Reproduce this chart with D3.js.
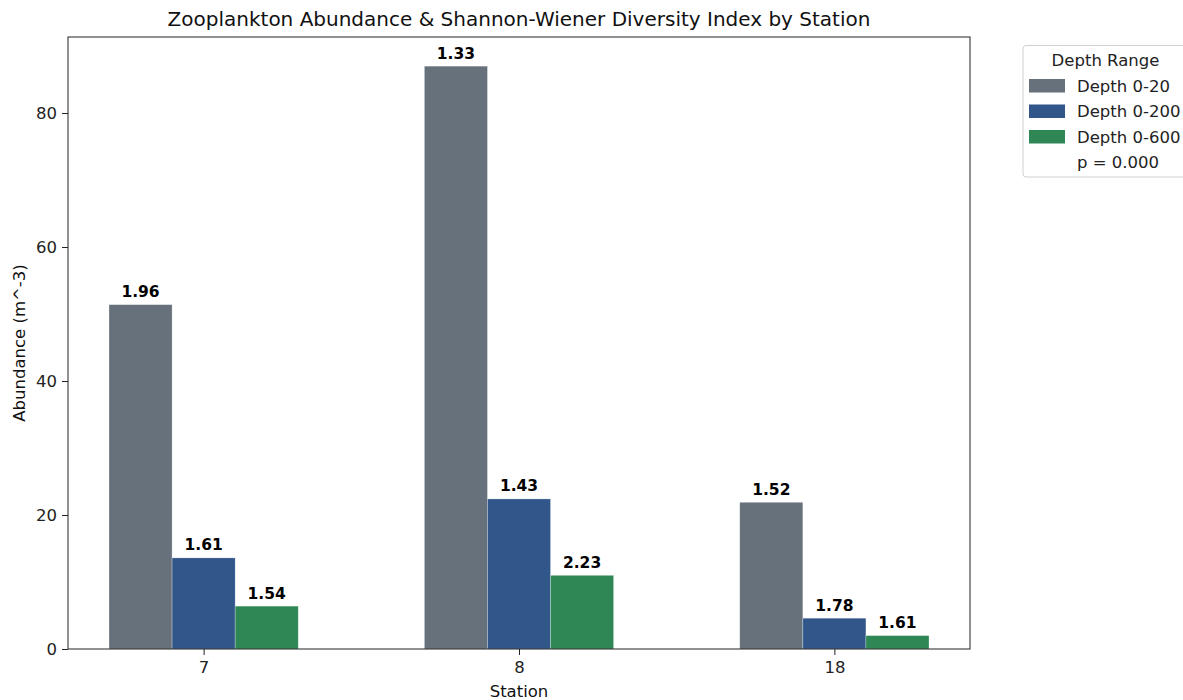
<!DOCTYPE html>
<html>
<head>
<meta charset="utf-8">
<script src="https://cdn.jsdelivr.net/npm/d3@7"></script>
<style>
  body { margin: 0; background: #fff; }
  svg { display: block; font-family: "DejaVu Sans", sans-serif; }
</style>
</head>
<body>
<svg id="chart" width="1183" height="700"></svg>
<script>
// 站位 × 深度层 分组柱状图，柱顶标注 Shannon-Wiener 指数

const stations = ["7", "8", "18"];
const depths = ["Depth 0-20", "Depth 0-200", "Depth 0-600"];
const depthColors = ["#67717c", "#30568a", "#2e8754"];

// abundance (m^-3), one array per depth range, ordered like stations
const abundance0to20 = [51.4, 87.0, 21.9];
const abundance0to200 = [13.6, 22.4, 4.6];
const abundance0to600 = [6.4, 11.0, 2.0];

// Shannon-Wiener index labels
const shannon0to20 = [1.96, 1.33, 1.52];
const shannon0to200 = [1.61, 1.43, 1.78];
const shannon0to600 = [1.54, 2.23, 1.61];

const yTicks = [0, 20, 40, 60, 80];
const pValueText = "p = 0.000";

const abundanceSeries = [abundance0to20, abundance0to200, abundance0to600];
const shannonSeries = [shannon0to20, shannon0to200, shannon0to600];

const rows = [];
stations.forEach((station, i) => {
  depths.forEach((depth, j) => {
    rows.push({
      station,
      depth,
      value: abundanceSeries[j][i],
      shannon: shannonSeries[j][i],
    });
  });
});

const FONT = 16.5;
const margin = { top: 37, right: 213, bottom: 51, left: 68 };
const svg = d3.select("#chart");
const width = +svg.attr("width") - margin.left - margin.right;
const height = +svg.attr("height") - margin.top - margin.bottom;

const g = svg.append("g").attr("transform", `translate(${margin.left},${margin.top})`);

const x = d3.scalePoint().domain(stations).range([0, width]).padding(0.43);
const step = x.step();
const xInner = d3
  .scaleBand()
  .domain(depths)
  .range([-0.3 * step, 0.3 * step])
  .padding(0);

const yMax = d3.max(rows, (d) => d.value) * 1.05;
const y = d3.scaleLinear().domain([0, yMax]).range([height, 0]);

const color = d3.scaleOrdinal().domain(depths).range(depthColors);

// bars
g.selectAll(".bar")
  .data(rows)
  .join("rect")
  .attr("class", "bar")
  .attr("x", (d) => x(d.station) + xInner(d.depth))
  .attr("y", (d) => y(d.value))
  .attr("width", xInner.bandwidth())
  .attr("height", (d) => y(0) - y(d.value))
  .attr("fill", (d) => color(d.depth))
  .attr("stroke", "rgba(255,255,255,0.45)")
  .attr("stroke-width", 0.6);

// shannon labels
g.selectAll(".bar-label")
  .data(rows)
  .join("text")
  .attr("class", "bar-label")
  .attr("x", (d) => x(d.station) + xInner(d.depth) + xInner.bandwidth() / 2)
  .attr("y", (d) => y(d.value) - 7.5)
  .attr("text-anchor", "middle")
  .attr("font-size", 15.5)
  .attr("font-weight", "bold")
  .attr("fill", "#000")
  .text((d) => d.shannon.toFixed(2));

// axes
const styleAxis = (s) => {
  s.select(".domain").remove();
  s.selectAll(".tick line").attr("stroke", "#222");
  s.selectAll(".tick text")
    .attr("font-size", FONT)
    .attr("font-family", "DejaVu Sans")
    .attr("fill", "#222");
};

g.append("g")
  .attr("class", "axis x-axis")
  .attr("transform", `translate(0,${height})`)
  .call(d3.axisBottom(x).tickSize(6).tickPadding(6))
  .call(styleAxis);

g.append("g")
  .attr("class", "axis y-axis")
  .call(d3.axisLeft(y).tickValues(yTicks).tickSize(6).tickPadding(5))
  .call(styleAxis);

// frame
g.append("rect")
  .attr("width", width)
  .attr("height", height)
  .attr("fill", "none")
  .attr("stroke", "#222")
  .attr("stroke-width", 1);

// title and axis labels
svg.append("text")
  .attr("x", margin.left + width / 2)
  .attr("y", 26)
  .attr("text-anchor", "middle")
  .attr("font-size", 20)
  .attr("fill", "#111")
  .text("Zooplankton Abundance & Shannon-Wiener Diversity Index by Station");

svg.append("text")
  .attr("x", margin.left + width / 2)
  .attr("y", 697)
  .attr("text-anchor", "middle")
  .attr("font-size", FONT)
  .attr("fill", "#111")
  .text("Station");

svg.append("text")
  .attr("transform", `translate(25,${margin.top + height / 2}) rotate(-90)`)
  .attr("text-anchor", "middle")
  .attr("font-size", FONT)
  .attr("fill", "#111")
  .text("Abundance (m^-3)");

// legend
const legend = svg.append("g").attr("transform", "translate(1023,45.5)");
legend.append("rect")
  .attr("width", 175)
  .attr("height", 131.5)
  .attr("rx", 3)
  .attr("fill", "#fff")
  .attr("stroke", "#d0d0d0");

legend.append("text")
  .attr("x", 82.5)
  .attr("y", 20.5)
  .attr("text-anchor", "middle")
  .attr("font-size", FONT)
  .attr("fill", "#222")
  .text("Depth Range");

const legendItems = depths.concat([pValueText]);
const item = legend
  .selectAll(".legend-item")
  .data(legendItems)
  .join("g")
  .attr("class", "legend-item")
  .attr("transform", (d, i) => `translate(0,${40 + i * 25.5})`);

item.filter((d) => depths.includes(d))
  .append("rect")
  .attr("x", 6)
  .attr("y", -6.5)
  .attr("width", 36)
  .attr("height", 13.5)
  .attr("fill", (d) => color(d));

item.append("text")
  .attr("x", 54)
  .attr("y", 6)
  .attr("font-size", FONT)
  .attr("fill", "#222")
  .text((d) => d);
</script>
</body>
</html>
